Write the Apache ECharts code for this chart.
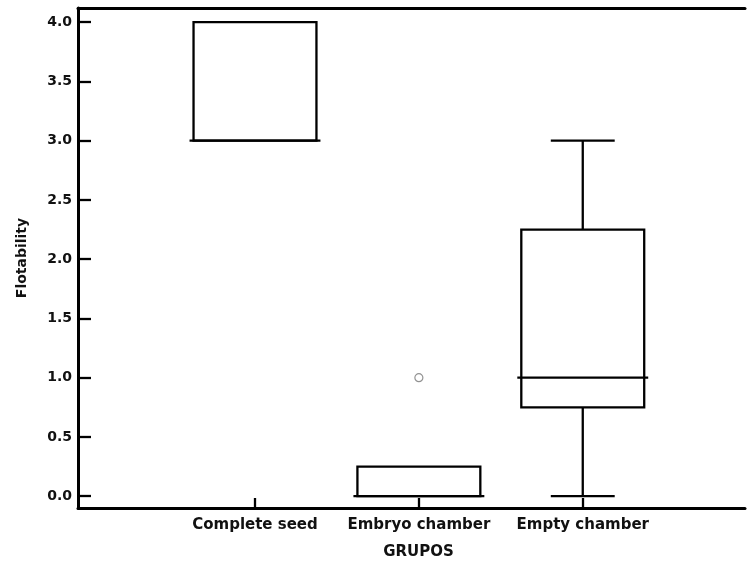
<!DOCTYPE html>
<html>
<head>
<meta charset="utf-8">
<script src="https://cdn.jsdelivr.net/npm/echarts@6/dist/echarts.min.js"></script>
<style>
  html, body { margin: 0; padding: 0; background: #fff; }
  #main { width: 748px; height: 561px; }
</style>
</head>
<body>
<div id="main"></div>
<script>
// groups and five-number summaries
var groups = ['Complete seed', 'Embryo chamber', 'Empty chamber'];
var mins = [3, 0, 0];
var q1s = [3, 0, 0.75];
var medians = [3, 0, 1];
var q3s = [4, 0.25, 2.25];
var maxs = [4, 0.25, 3];
// outliers as [group index, value]
var outliers = [[1, 1]];
var yTicks = [0, 0.5, 1, 1.5, 2, 2.5, 3, 3.5, 4];

var boxData = groups.map(function (g, i) {
    return [i, mins[i], q1s[i], medians[i], q3s[i], maxs[i]];
});

var FONT = 'DejaVu Sans';
var lineStyle = { stroke: '#000', lineWidth: 2.3, fill: null };

function renderBox(params, api) {
    var x = api.value(0);
    var pMin = api.coord([x, api.value(1)]);
    var pQ1 = api.coord([x, api.value(2)]);
    var pMed = api.coord([x, api.value(3)]);
    var pQ3 = api.coord([x, api.value(4)]);
    var pMax = api.coord([x, api.value(5)]);
    var half = api.size([0.75, 0])[0] / 2;
    var cap = api.size([0.39, 0])[0] / 2;
    var cx = pMed[0];
    var kids = [];
    kids.push({
        type: 'rect',
        shape: { x: cx - half, y: pQ3[1], width: half * 2, height: pQ1[1] - pQ3[1] },
        style: { stroke: '#000', lineWidth: 2.3, fill: 'none' }
    });
    kids.push({
        type: 'line',
        shape: { x1: cx - half - 4, y1: pMed[1], x2: cx + half + 4, y2: pMed[1] },
        style: lineStyle
    });
    if (api.value(5) > api.value(4)) {
        kids.push({ type: 'line', shape: { x1: cx, y1: pQ3[1], x2: cx, y2: pMax[1] }, style: lineStyle });
        kids.push({ type: 'line', shape: { x1: cx - cap, y1: pMax[1], x2: cx + cap, y2: pMax[1] }, style: lineStyle });
    }
    if (api.value(1) < api.value(2)) {
        kids.push({ type: 'line', shape: { x1: cx, y1: pQ1[1], x2: cx, y2: pMin[1] }, style: lineStyle });
        kids.push({ type: 'line', shape: { x1: cx - cap, y1: pMin[1], x2: cx + cap, y2: pMin[1] }, style: lineStyle });
    }
    return { type: 'group', children: kids };
}

var myChart = echarts.init(document.getElementById('main'));
myChart.setOption({
    animation: false,
    grid: { left: 78, right: 3, top: 8, bottom: 53, containLabel: false, outerBoundsMode: 'none' },
    xAxis: [{
        type: 'value',
        min: -1.08,
        max: 2.99,
        name: 'GRUPOS',
        nameLocation: 'middle',
        nameGap: 37,
        nameTextStyle: { fontFamily: FONT, fontWeight: 'bold', fontSize: 15, color: '#111', padding: [0, 0, 0, 14] },
        axisLine: { show: true, onZero: false, lineStyle: { color: '#000', width: 3 } },
        axisTick: { show: true, inside: true, length: 10, customValues: [0, 1, 2], lineStyle: { color: '#000', width: 2.3 } },
        axisLabel: {
            customValues: [0, 1, 2],
            margin: 10,
            fontFamily: FONT, fontWeight: 'bold', fontSize: 15, color: '#111',
            formatter: function (v) { return groups[v]; }
        },
        splitLine: { show: false }
    }, {
        type: 'value',
        position: 'top',
        min: -1.08,
        max: 2.99,
        axisLine: { show: true, onZero: false, lineStyle: { color: '#000', width: 3 } },
        axisTick: { show: false },
        axisLabel: { show: false },
        splitLine: { show: false }
    }],
    yAxis: {
        type: 'value',
        min: -0.1,
        max: 4.12,
        name: 'Flotability',
        nameLocation: 'middle',
        nameGap: 49,
        nameTextStyle: { fontFamily: FONT, fontWeight: 'bold', fontSize: 14, color: '#111' },
        axisLine: { show: true, onZero: false, lineStyle: { color: '#000', width: 3 } },
        axisTick: { show: true, inside: true, length: 13, customValues: yTicks, lineStyle: { color: '#000', width: 2.3 } },
        axisLabel: {
            customValues: yTicks,
            margin: 6,
            fontFamily: FONT, fontWeight: 'bold', fontSize: 14, color: '#111',
            formatter: function (v) { return v.toFixed(1); }
        },
        splitLine: { show: false }
    },
    series: [{
        type: 'custom',
        renderItem: renderBox,
        data: boxData,
        encode: { x: 0, y: [1, 2, 3, 4, 5] },
        silent: true
    }, {
        type: 'scatter',
        data: outliers,
        symbol: 'circle',
        symbolSize: 8,
        itemStyle: { color: '#fff', borderColor: '#777', borderWidth: 1.2 },
        silent: true
    }]
});
window.onresize = myChart.resize;
</script>
</body>
</html>
